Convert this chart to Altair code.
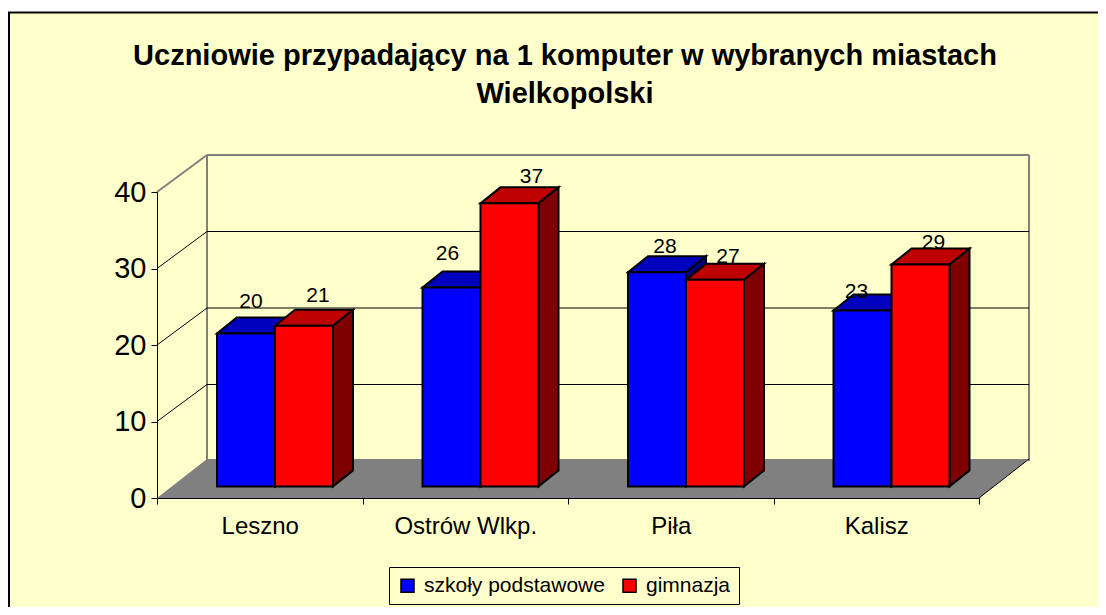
import altair as alt
import pandas as pd

TITLE = ["Uczniowie przypadający na 1 komputer w wybranych miastach", "Wielkopolski"]
CITIES = ["Leszno", "Ostrów Wlkp.", "Piła", "Kalisz"]
SERIES = ["szkoły podstawowe", "gimnazja"]
PRIMARY = [20, 26, 28, 23]
LOWER_SECONDARY = [21, 37, 27, 29]
Y_TICKS = [0, 10, 20, 30, 40]

FONT = "Liberation Sans"
BG = "#FFFFCC"
W, H = 822, 306
PX_X = W / len(CITIES)   # px per category
PX_Y = H / 40            # px per value unit

# depth of the 3-D box, converted into scale units
WALL_DX, WALL_DY = 50 / PX_X, 37 / PX_Y
FLOOR_DY = 39 / PX_Y
BAR_DX, BAR_DY = 20 / PX_X, 16 / PX_Y
BAR_OFFSET, BAR_W = 60 / PX_X, 58 / PX_X
BASE = 11.6 / PX_Y

# label nudges (px) per series/category, relative to bar centre and front top
NUDGE = {
    (0, 0): (5, -25), (0, 1): (-4, -28), (0, 2): (8, -19), (0, 3): (-6, -12),
    (1, 0): (14, -24), (1, 1): (22, -20), (1, 2): (13, -17), (1, 3): (13, -16),
}

rows = []
for s, (name, vals) in enumerate(zip(SERIES, [PRIMARY, LOWER_SECONDARY])):
    for i, v in enumerate(vals):
        x0 = i + BAR_OFFSET + s * BAR_W
        nx, ny = NUDGE[(s, i)]
        rows.append(dict(id=f"{s}-{i}", s=s, series=name, value=v, x0=x0, x1=x0 + BAR_W,
                         base=BASE, top=BASE + v,
                         lx=x0 + BAR_W / 2 + nx / PX_X, ly=BASE + v - ny / PX_Y))
bars = pd.DataFrame(rows)

tops, sides = [], []
for b in rows:
    for k in (0, 1):
        tops.append(dict(id=b["id"], s=b["s"], y=b["top"] + k * BAR_DY,
                         x=b["x0"] + k * BAR_DX, x2=b["x1"] + k * BAR_DX))
        sides.append(dict(id=b["id"], s=b["s"], x=b["x1"] + k * BAR_DX,
                          y=b["top"] + k * BAR_DY, y2=b["base"] + k * BAR_DY))
tops = pd.DataFrame(tops)
sides = pd.DataFrame(sides)

n = len(CITIES)
floor = pd.DataFrame({"y": [0, FLOOR_DY], "x": [0, WALL_DX], "x2": [n, n + WALL_DX]})
grey = pd.DataFrame([
    dict(x=WALL_DX, x2=WALL_DX, y=WALL_DY, y2=40 + WALL_DY),
    dict(x=WALL_DX, x2=n + WALL_DX, y=40 + WALL_DY, y2=40 + WALL_DY),
    dict(x=n + WALL_DX, x2=n + WALL_DX, y=WALL_DY, y2=40 + WALL_DY),
    dict(x=0, x2=WALL_DX, y=40, y2=40 + WALL_DY),
])
black = pd.DataFrame(
    [dict(x=WALL_DX, x2=n + WALL_DX, y=t + WALL_DY, y2=t + WALL_DY) for t in Y_TICKS[1:-1]]
    + [dict(x=0, x2=WALL_DX, y=t, y2=t + WALL_DY) for t in Y_TICKS[1:-1]]
    + [dict(x=n, x2=n + WALL_DX, y=0, y2=FLOOR_DY)]
)

sx = alt.Scale(domain=[0, n], range=[0, W], nice=False, zero=False)
sy = alt.Scale(domain=[0, 40], range=[H, 0], nice=False, zero=False)

label_expr = "datum.value % 1 === 0 ? '' : " + str(CITIES) + "[floor(datum.value)]"
x_axis = alt.Axis(
    values=[k / 2 for k in range(2 * n + 1)], labelExpr=label_expr, title=None, grid=False,
    tickOpacity=alt.condition("datum.value % 1 === 0", alt.value(1), alt.value(0)),
    tickSize=6, tickColor="black", domainColor="black", labelFont=FONT, labelFontSize=24,
    labelColor="black", labelPadding=10, labelOverlap=False, labelFlush=False, labelAngle=0, zindex=1,
)
y_axis = alt.Axis(
    values=Y_TICKS, title=None, grid=False, tickSize=6, tickColor="black", domainColor="black",
    labelFont=FONT, labelFontSize=29, labelColor="black", labelPadding=5, labelOverlap=False,
    labelFlush=False, zindex=1,
)
X = lambda f="x:Q": alt.X(f, scale=sx, axis=x_axis, stack=None)
Y = lambda f="y:Q": alt.Y(f, scale=sy, axis=y_axis, stack=None)

frame = alt.Chart(pd.DataFrame({"a": [0]})).mark_rect(fill=BG, stroke="black", strokeWidth=2).encode(
    x=alt.value(-148), x2=alt.value(1000), y=alt.value(-179.5), y2=alt.value(460)
)
floor_layer = alt.Chart(floor).mark_area(orient="horizontal", fill="#808080").encode(
    x=X(), x2="x2:Q", y=Y(),
)
grey_lines = alt.Chart(grey).mark_rule(color="#808080", strokeWidth=2).encode(
    x=X(), x2="x2:Q", y=Y(), y2="y2:Q")
black_lines = alt.Chart(black).mark_rule(color="black", strokeWidth=1).encode(
    x=X(), x2="x2:Q", y=Y(), y2="y2:Q")

legend = alt.Legend(
    orient="none", legendX=232, legendY=375, direction="horizontal", title=None,
    fillColor=BG, strokeColor="black", padding=8, symbolType="square", symbolSize=170,
    symbolStrokeColor="black", symbolStrokeWidth=1.5, labelFont=FONT, labelFontSize=21,
    labelColor="black", columnPadding=14, labelOffset=6, labelLimit=400,
)
color = alt.Color("series:N", scale=alt.Scale(domain=SERIES, range=["#0000FF", "#FF0000"]), legend=legend)


def bar_layers(s, top_fill, side_fill):
    edge = dict(stroke="black", strokeWidth=2)
    top = alt.Chart(tops[tops.s == s]).mark_area(orient="horizontal", fill=top_fill, **edge).encode(
        x=X(), x2="x2:Q", y=Y(), detail="id:N")
    side = alt.Chart(sides[sides.s == s]).mark_area(fill=side_fill, **edge).encode(
        x=X(), y=Y(), y2="y2:Q", detail="id:N")
    front = alt.Chart(bars[bars.s == s]).mark_rect(**edge).encode(
        x=X("x0:Q"), x2="x1:Q", y=Y("base:Q"), y2="top:Q", color=color)
    return [top, side, front]


labels = alt.Chart(bars).mark_text(font=FONT, fontSize=21, color="black", baseline="alphabetic", align="center").encode(
    x=X("lx:Q"), y=Y("ly:Q"), text="value:Q")

chart = alt.layer(
    frame, floor_layer, grey_lines, black_lines,
    *bar_layers(0, "#0000BF", "#00007F"),
    *bar_layers(1, "#BF0000", "#7F0000"),
    labels,
).properties(
    width=W, height=H,
    padding={"left": 149, "top": 184, "right": 119, "bottom": 109},
    autosize=alt.AutoSizeParams(type="none"),
    background="white",
    title=alt.TitleParams(text=TITLE, font=FONT, fontSize=29, fontWeight="bold", color="black",
                          lineHeight=38, anchor="middle", dx=-3, offset=0, dy=97),
).configure_view(stroke=None)

chart.save("out.html", embed_options={"renderer": "svg", "actions": False})
